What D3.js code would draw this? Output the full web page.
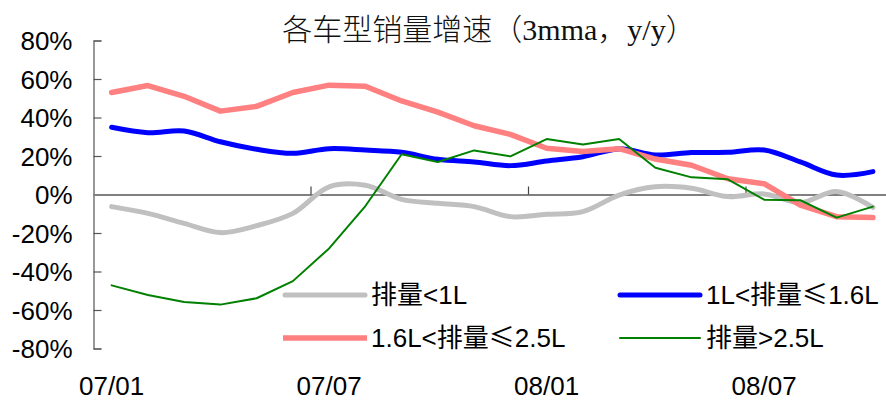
<!DOCTYPE html>
<html>
<head>
<meta charset="utf-8">
<script src="https://cdn.jsdelivr.net/npm/d3@7"></script>
<style>
  html, body { margin: 0; padding: 0; background: #fff; }
  svg { display: block; }
</style>
</head>
<body>
<svg id="chart" width="886" height="401"></svg>
<script>
// Monthly categories, Jan 2007 – Oct 2008
const months = ["07/01","07/02","07/03","07/04","07/05","07/06","07/07","07/08","07/09","07/10","07/11","07/12",
                "08/01","08/02","08/03","08/04","08/05","08/06","08/07","08/08","08/09","08/10"];
const tickLabels = ["07/01","07/07","08/01","08/07"];
const yTicks = [-80, -60, -40, -20, 0, 20, 40, 60, 80];

// 3-month moving average sales growth, y/y (%)
const under1L   = [-6.3, -9.8, -15, -19.8, -16.2, -9.8, 4.0, 4.8, -2.5, -4.6, -6.3, -11.5, -10.3, -8.9, -0.3, 4.0, 3.2, -1.1, 0.3, -4.2, 1.5, -6.7];
const from1to16 = [34.9, 32.1, 33.0, 27.4, 23.5, 21.4, 23.8, 23.1, 21.9, 18.3, 16.9, 15.0, 17.4, 19.6, 23.7, 20.5, 21.8, 21.9, 23.1, 16.9, 10.1, 11.9];
const from16to25 = [53.0, 56.6, 51.0, 43.3, 45.8, 53.0, 56.8, 56.2, 48.6, 42.8, 35.7, 31.2, 24.0, 22.3, 23.8, 18.4, 15.2, 8.2, 5.6, -5.5, -11.5, -12.0];
const over25L   = [-47.2, -52.2, -55.8, -57.2, -53.9, -45.0, -28.0, -6.0, 20.9, 16.9, 22.9, 19.8, 28.8, 26.0, 28.8, 13.9, 8.9, 7.9, -2.7, -3.0, -12.0, -6.3];

const seriesNames = ["排量<1L", "1L<排量≤1.6L", "1.6L<排量≤2.5L", "排量>2.5L"];

const series = [
  { name: seriesNames[0], values: under1L,    color: "#C0C0C0", width: 5,   curve: d3.curveCatmullRom.alpha(0.5) },
  { name: seriesNames[1], values: from1to16,  color: "#0000FF", width: 5,   curve: d3.curveCatmullRom.alpha(0.5) },
  { name: seriesNames[2], values: from16to25, color: "#FF8080", width: 5.5, curve: d3.curveLinear },
  { name: seriesNames[3], values: over25L,    color: "#008000", width: 2,   curve: d3.curveLinear }
];

const svg = d3.select("#chart");
const font = "'Liberation Sans', Arial, 'Noto Sans CJK SC', sans-serif";
const cjk = "'Noto Sans CJK SC', sans-serif";
const fs = 26;

const plotLeft = 93.5, plotRight = 891, plotTop = 40.5, plotBottom = 348.5;

const x = d3.scaleBand().domain(months).range([plotLeft, plotRight]).paddingInner(0).paddingOuter(0);
const cx = m => x(m) + x.bandwidth() / 2;
const y = d3.scaleLinear().domain([-80, 80]).range([plotBottom, plotTop]);

// Title
svg.append("text")
  .attr("x", 489).attr("y", 40)
  .attr("text-anchor", "middle")
  .attr("font-family", "'Liberation Serif', 'Noto Sans CJK SC', serif")
  .attr("font-size", 30)
  .attr("font-weight", 300)
  .attr("fill", "#111")
  .text("各车型销量增速（3mma，y/y）");

// Y axis
const yAxis = d3.axisLeft(y)
  .tickValues(yTicks)
  .tickSize(-8)
  .tickPadding(21)
  .tickFormat(d => d + "%");
const gy = svg.append("g").attr("transform", `translate(${plotLeft},0)`).call(yAxis);
gy.select(".domain").attr("stroke", "#555").attr("stroke-width", 1.2);
gy.selectAll(".tick line").attr("stroke", "#555").attr("stroke-width", 1.2);
gy.selectAll(".tick text")
  .attr("font-family", font).attr("font-size", fs).attr("fill", "#000")
  .attr("dy", "0.36em");

// Zero line with month ticks between categories
const zeroY = y(0);
const xAxis = d3.axisTop(x)
  .tickValues(months.filter((m, i) => i % 6 === 0 && i > 0))
  .tickSizeOuter(0)
  .tickSizeInner(8)
  .tickFormat("");
const gx = svg.append("g").attr("transform", `translate(0,${zeroY})`).call(xAxis);
gx.select(".domain").attr("stroke", "#808080").attr("stroke-width", 2);
gx.selectAll(".tick")
  .attr("transform", d => `translate(${x(d)},0)`);
gx.selectAll(".tick line").attr("stroke", "#444").attr("stroke-width", 1.2);

// Category labels along the bottom
svg.append("g").selectAll("text")
  .data(tickLabels)
  .join("text")
  .attr("x", d => cx(d))
  .attr("y", 395)
  .attr("text-anchor", "middle")
  .attr("font-family", font)
  .attr("font-size", fs)
  .attr("fill", "#000")
  .text(d => d);

// Series lines
const line = (curve) => d3.line()
  .x((d, i) => cx(months[i]))
  .y(d => y(d))
  .curve(curve);

svg.append("g").selectAll("path")
  .data(series)
  .join("path")
  .attr("fill", "none")
  .attr("stroke", d => d.color)
  .attr("stroke-width", d => d.width)
  .attr("stroke-linejoin", "round")
  .attr("stroke-linecap", "round")
  .attr("d", d => line(d.curve)(d.values));

// Legend (two columns, two rows)
const legendPos = [
  { x1: 285, x2: 365, ty: 295, tx: 371 },
  { x1: 620, x2: 700, ty: 295, tx: 706 },
  { x1: 283, x2: 367, ty: 338, tx: 371 },
  { x1: 620, x2: 700, ty: 338, tx: 706 }
];
const legend = svg.append("g");
series.forEach((s, i) => {
  const p = legendPos[i];
  legend.append("line")
    .attr("x1", p.x1).attr("x2", p.x2)
    .attr("y1", p.ty).attr("y2", p.ty)
    .attr("stroke", s.color)
    .attr("stroke-width", s.width)
    .attr("stroke-linecap", i === 2 ? "butt" : "round");
  const t = legend.append("text")
    .attr("x", p.tx).attr("y", p.ty)
    .attr("dy", "0.36em")
    .attr("font-family", font)
    .attr("font-size", fs)
    .attr("fill", "#000");
  // the "≤" sign is set in the CJK face so it takes a full-width cell
  s.name.split(/(≤)/).forEach(part => {
    if (!part) return;
    t.append("tspan")
      .attr("font-family", part === "≤" ? cjk : font)
      .text(part);
  });
});
</script>
</body>
</html>
